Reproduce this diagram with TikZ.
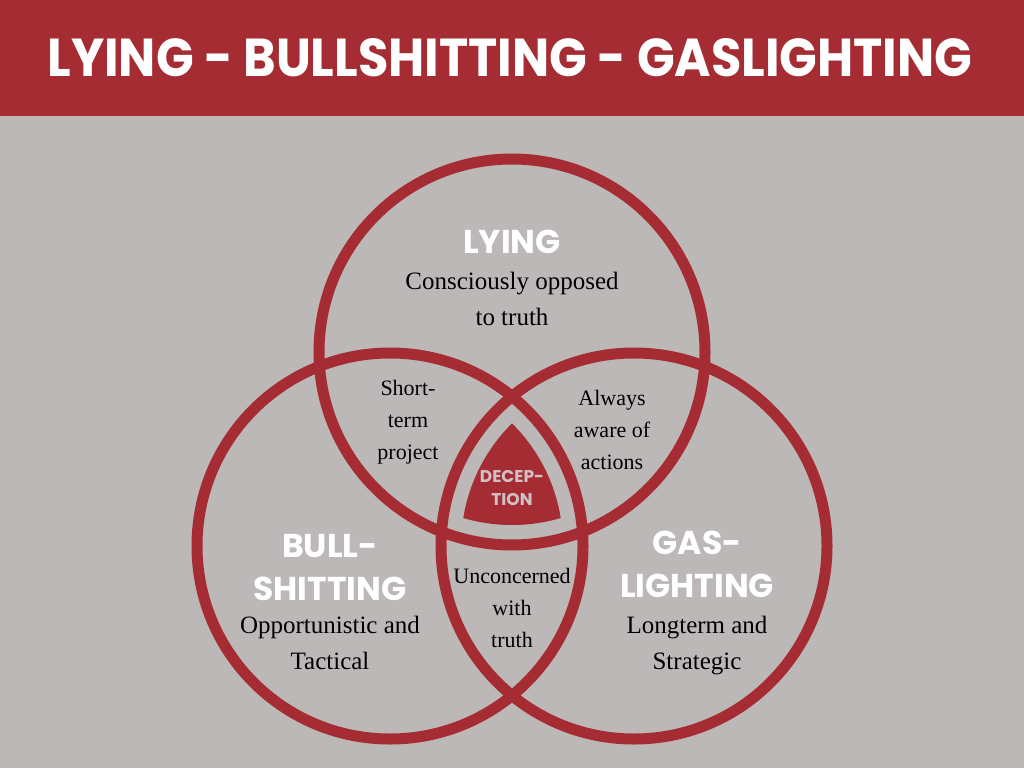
\documentclass[tikz,border=0pt]{standalone}
\usepackage{fontspec}
\setmainfont{Liberation Serif}
\newfontfamily\popfont{Poppins}
\definecolor{brick}{RGB}{166,44,52}
\definecolor{bggray}{RGB}{188,184,183}
\definecolor{paleg}{RGB}{206,195,196}
\begin{document}
\begin{tikzpicture}[x=1pt,y=-1pt,
  ring/.style={draw=brick,line width=11pt},
  head/.style={font=\popfont\bfseries\fontsize{33}{43}\selectfont,text=white,align=center,inner sep=0pt},
  body/.style={font=\fontsize{25}{36}\selectfont,align=center,text=black,inner sep=0pt},
  small/.style={font=\fontsize{22}{32}\selectfont,align=center,text=black,inner sep=0pt}]
\useasboundingbox (0,0) rectangle (1024,768);
\fill[bggray] (0,0) rectangle (1024,768);
\fill[brick] (0,0) rectangle (1024,116);
\node[anchor=base,text=white,inner sep=0pt] (title) at (510,76)
  {\resizebox{925pt}{38pt}{\popfont\bfseries LYING - BULLSHITTING - GASLIGHTING}};
\coordinate (cT) at (512,352);
\coordinate (cL) at (390,546);
\coordinate (cR) at (634,546);
\draw[ring] (cT) circle[radius=193pt];
\draw[ring] (cL) circle[radius=193pt];
\draw[ring] (cR) circle[radius=193pt];
\begin{scope}
  \clip (cL) circle[radius=173pt];
  \clip (cR) circle[radius=173pt];
  \fill[brick] (cT) circle[radius=173pt];
\end{scope}
\node[head] (lying) at (512,242) {LYING};
\node[body] (lyingtxt) at (512,299) {Consciously opposed\\to truth};
\node[small] (short) at (408,422) {Short-\\term\\project};
\node[small] (always) at (612,430) {Always\\aware of\\actions};
\node[small] (uncon) at (512,608) {Unconcerned\\with\\truth};
\node[head] (bull) at (330,568) {BULL-\\SHITTING};
\node[body] (bulltxt) at (330,643) {Opportunistic and\\Tactical};
\node[head] (gas) at (697,564) {GAS-\\LIGHTING};
\node[body] (gastxt) at (697,646) {Longterm and\\Strategic};
\node[font=\popfont\bfseries\fontsize{17}{23}\selectfont,text=paleg,align=center,inner sep=0pt] (dec) at (512,488) {DECEP-\\TION};
\end{tikzpicture}
\end{document}
